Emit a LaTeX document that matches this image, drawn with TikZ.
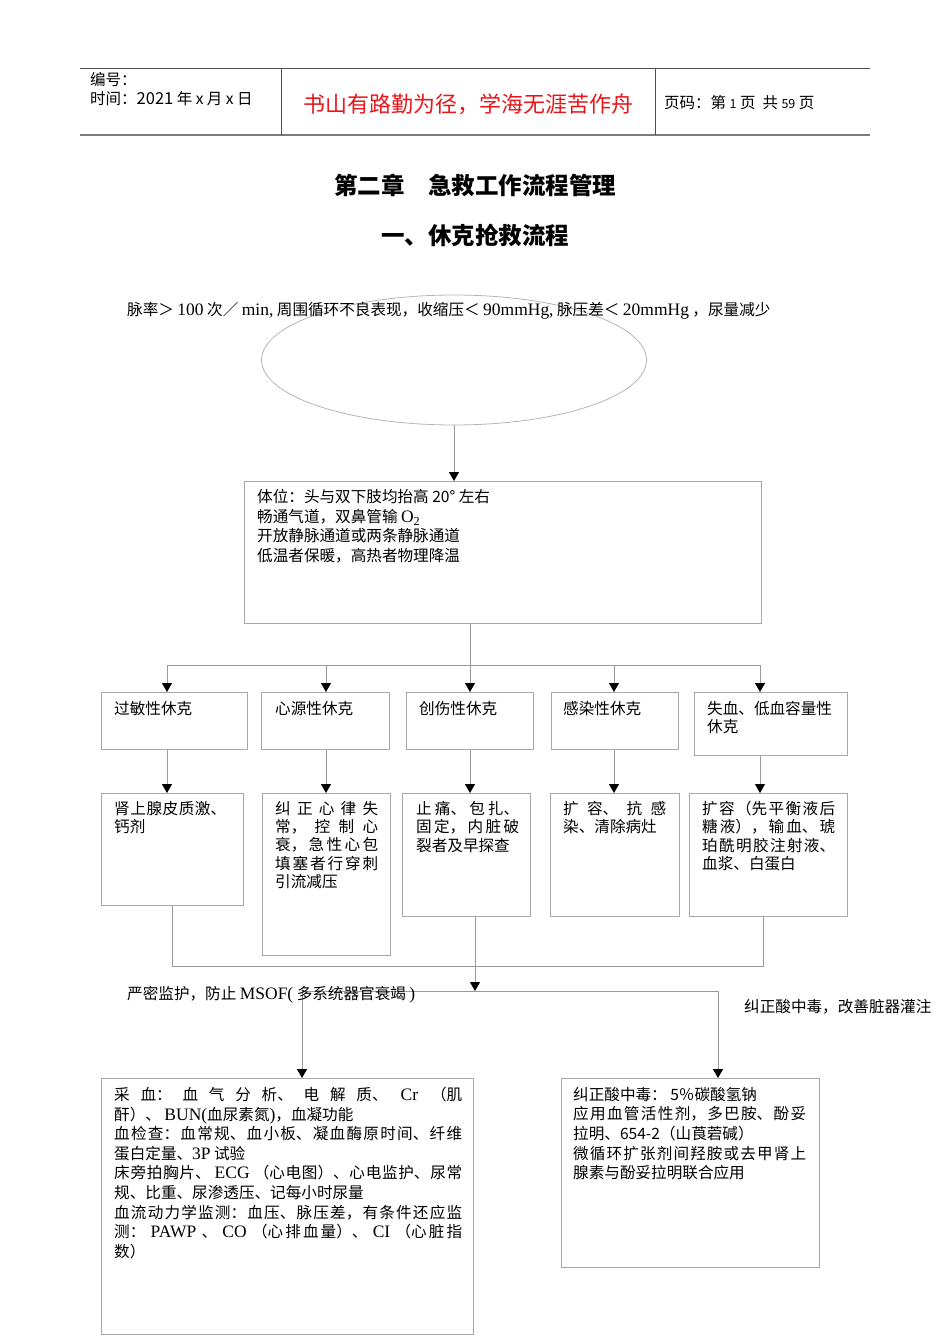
\documentclass[tikz,border=0pt]{standalone}
\usepackage{fontspec}
\setmainfont{Noto Sans CJK SC}
\newfontfamily\tnr[Scale=1.12]{Liberation Serif}
\usetikzlibrary{arrows.meta, shapes.geometric}

\XeTeXlinebreaklocale "zh"
\XeTeXlinebreakskip=0pt plus 2pt
\tolerance=10000
\hbadness=10000

\definecolor{boxgray}{HTML}{A8A8A8}
\definecolor{linkgray}{HTML}{9A9A9A}
\definecolor{ovalgray}{HTML}{B4B4B4}
\definecolor{rulegray}{HTML}{505050}
\definecolor{mottored}{HTML}{E8151B}

\newcommand{\boxfont}{\fontsize{15.6}{18.3}\selectfont}
\newcommand{\bigfont}{\fontsize{15.6}{19.6}\selectfont}
\newcommand{\headfont}{\fontsize{15.5}{17}\selectfont}

\begin{document}
\begin{tikzpicture}[x=1pt, y=-1pt,
  box/.style={draw=boxgray, line width=0.9pt, anchor=north west, inner sep=0pt},
  tag/.style={anchor=north west, inner sep=0pt, align=left, font=\boxfont},
  note/.style={anchor=north west, inner sep=0pt, align=justify, font=\boxfont},
  link/.style={draw=linkgray, line width=0.9pt},
  flow/.style={link, -{Triangle[black, width=10pt, length=9pt]}}]

\useasboundingbox (0,0) rectangle (950,1344);

% header
\draw[rulegray, line width=1pt] (80,68) -- (870,68);
\draw[rulegray!75, line width=2pt] (80,135) -- (870,135);
\draw[rulegray, line width=1pt] (281,68) -- (281,135) (655,68) -- (655,135);
\node[anchor=west, inner sep=0pt, font=\headfont] (code) at (90,80) {编号：};
\node[anchor=west, inner sep=0pt, font=\headfont] (date) at (90,99) {时间：{\fontsize{16.5}{17}\selectfont 2021} 年 x 月 x 日};
\node[text=mottored, inner sep=0pt, font=\fontsize{22}{22}\selectfont] (motto) at (468,104) {书山有路勤为径，学海无涯苦作舟};
\node[anchor=west, inner sep=0pt, font=\headfont] (page) at (664,103)
  {页码：第 {\fontsize{12.5}{12}\selectfont 1} 页\ \ 共 {\fontsize{12.5}{12}\selectfont 59} 页};

% titles
\node[font=\fontsize{23.5}{23.5}\selectfont\bfseries] (chap) at (475,185) {第二章　急救工作流程管理};
\node[font=\fontsize{23.5}{23.5}\selectfont\bfseries] (sect) at (475,235) {一、休克抢救流程};

% signs
\node[ellipse, draw=ovalgray, line width=0.8pt, minimum width=385pt, minimum height=130pt, inner sep=0pt] (oval) at (454,360) {};
\node[anchor=west, inner sep=0pt, font=\bigfont] (sign) at (127,311)
  {脉率＞ {\tnr 100} 次／\ {\tnr min,} 周围循环不良表现，收缩压＜ {\tnr 90mmHg,} 脉压差＜ {\tnr 20mmHg} ，尿量减少};

% first aid
\node[box, minimum width=517pt, minimum height=142pt] (care) at (244,481) {};
\node[tag, font=\bigfont] at ([xshift=13pt, yshift=-8pt]care.north west)
  {体位：头与双下肢均抬高 20° 左右\\
   畅通气道，双鼻管输 {\tnr O\textsubscript{2}}\\
   开放静脉通道或两条静脉通道\\
   低温者保暖，高热者物理降温};

% kinds of shock
\node[box, minimum width=146pt, minimum height=57pt] (a1) at (101,692) {};
\node[box, minimum width=128pt, minimum height=57pt] (b1) at (261,692) {};
\node[box, minimum width=127pt, minimum height=57pt] (c1) at (406,692) {};
\node[box, minimum width=127pt, minimum height=57pt] (d1) at (551,692) {};
\node[box, minimum width=153pt, minimum height=63pt] (e1) at (694,692) {};
\node[tag] at ([xshift=13pt, yshift=-9pt]a1.north west) {过敏性休克};
\node[tag] at ([xshift=14pt, yshift=-9pt]b1.north west) {心源性休克};
\node[tag] at ([xshift=13pt, yshift=-9pt]c1.north west) {创伤性休克};
\node[tag] at ([xshift=12pt, yshift=-9pt]d1.north west) {感染性休克};
\node[tag] at ([xshift=13pt, yshift=-9pt]e1.north west) {失血、低血容量性\\休克};

% treatments
\node[box, minimum width=142pt, minimum height=112pt] (a2) at (101,793) {};
\node[box, minimum width=128pt, minimum height=162pt] (b2) at (262,793) {};
\node[box, minimum width=128pt, minimum height=123pt] (c2) at (402,793) {};
\node[box, minimum width=129pt, minimum height=123pt] (d2) at (550,793) {};
\node[box, minimum width=158pt, minimum height=123pt] (e2) at (689,793) {};
\node[note, text width=112pt] at ([xshift=13pt, yshift=-8pt]a2.north west)
  {肾上腺皮质激、\linebreak 钙剂};
\node[note, text width=103pt] at ([xshift=13pt, yshift=-8pt]b2.north west)
  {纠正心律失\linebreak 常，控制心\linebreak 衰，急性心包\linebreak 填塞者行穿刺\linebreak 引流减压};
\node[note, text width=103pt] at ([xshift=14pt, yshift=-8pt]c2.north west)
  {止痛、包扎、\linebreak 固定，内脏破\linebreak 裂者及早探查};
\node[note, text width=103pt] at ([xshift=13pt, yshift=-8pt]d2.north west)
  {扩容、抗感\linebreak 染、清除病灶};
\node[note, text width=133pt] at ([xshift=13pt, yshift=-8pt]e2.north west)
  {扩容（先平衡液后\linebreak 糖液），输血、琥\linebreak 珀酰明胶注射液、\linebreak 血浆、白蛋白};

% monitoring
\node[box, minimum width=372pt, minimum height=256pt] (watch) at (101,1078) {};
\node[box, minimum width=258pt, minimum height=189pt] (acid) at (561,1078) {};
\node[note, font=\bigfont, text width=348pt] at ([xshift=13pt, yshift=-9pt]watch.north west)
  {采血：血气分析、电解质、 {\tnr Cr} （肌\linebreak
   酐）、 {\tnr BUN(}血尿素氮{\tnr )}，血凝功能\\
   血检查：血常规、血小板、凝血酶原时间、纤维\linebreak
   蛋白定量、{\tnr 3P} 试验\\
   床旁拍胸片、 {\tnr ECG} （心电图）、心电监护、尿常\linebreak
   规、比重、尿渗透压、记每小时尿量\\
   血流动力学监测：血压、脉压差，有条件还应监\linebreak
   测： {\tnr PAWP} 、 {\tnr CO} （心排血量）、 {\tnr CI} （心脏指\linebreak
   数）};
\node[note, font=\bigfont, text width=233pt] at ([xshift=12pt, yshift=-9pt]acid.north west)
  {纠正酸中毒： 5％碳酸氢钠\\
   应用血管活性剂，多巴胺、酚妥\linebreak
   拉明、654-2（山莨菪碱）\\
   微循环扩张剂间羟胺或去甲肾上\linebreak
   腺素与酚妥拉明联合应用};

% connectors
\draw[flow] (oval.south) -- (oval.south |- care.north);
\coordinate (bus) at (470,665);
\foreach \n/\x in {a/167, b/326, c/470, d/614, e/760}
  \coordinate (j\n) at (\x,665);
\draw[link] (care.south -| bus) -- (bus);
\draw[link] (ja) -- (je);
\foreach \n in {a,b,c,d,e} {
  \draw[flow] (j\n) -- (j\n |- \n1.north);
  \draw[flow] (j\n |- \n1.south) -- (j\n |- \n2.north);
}

\coordinate (ka) at (172,966);
\coordinate (ke) at (763,966);
\coordinate (kc) at (475,991);
\coordinate (sl) at (302,991);
\coordinate (sr) at (718,991);
\draw[link] (ka |- a2.south) -- (ka) -- (ke) -- (ke |- e2.south);
\draw[flow] (kc |- c2.south) -- (kc);
\draw[link] (sl) -- (sr);
\draw[flow] (sl) -- (sl |- watch.north);
\draw[flow] (sr) -- (sr |- acid.north);

\node[anchor=west, inner sep=0pt, font=\bigfont] (msof) at (127,995)
  {严密监护，防止 {\tnr MSOF(} 多系统器官衰竭 {\tnr )}};
\node[anchor=west, inner sep=0pt, font=\bigfont] (perf) at (744,1007) {纠正酸中毒，改善脏器灌注};

\end{tikzpicture}
\end{document}
